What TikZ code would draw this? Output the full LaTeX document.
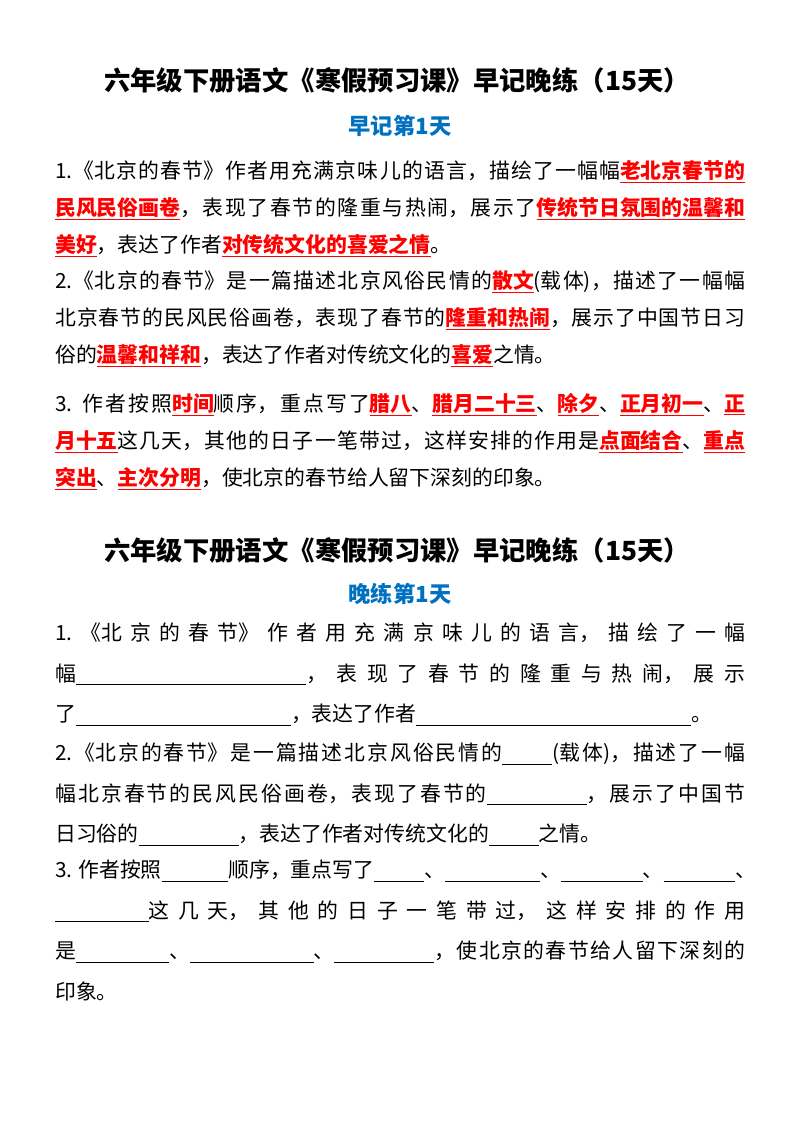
\documentclass[tikz,border=0pt]{standalone}
\usepackage{fontspec}
\setmainfont{Noto Sans CJK SC}
\XeTeXlinebreaklocale "zh"
\XeTeXlinebreakskip=0pt plus 3pt
\definecolor{keyred}{RGB}{255,0,0}
\definecolor{dayblue}{RGB}{0,112,192}
% red answer and empty blank
\newcommand{\ans}[1]{\textcolor{keyred}{\bfseries\underline{#1}}}
\newcommand{\blank}[1]{\rule[-3pt]{#1cm}{0.6pt}}
\newcommand{\brk}{\linebreak{}}
\tikzset{
  title/.style={font=\fontsize{22.5}{26}\selectfont\bfseries, inner sep=0pt},
  day/.style={font=\fontsize{19}{23}\selectfont\bfseries, text=dayblue, inner sep=0pt},
  para/.style={anchor=north west, inner sep=0pt, text width=20.7cm, align=justify,
    font=\fontsize{17.8}{31.5}\selectfont},
  para2/.style={para, font=\fontsize{17.8}{34.5}\selectfont}
}
\begin{document}
\begin{tikzpicture}[x=0.03cm,y=-0.03cm]
\useasboundingbox (0,0) rectangle (800,1132);
% morning part
\node[title] (t1) at (397,80) {六年级下册语文《寒假预习课》早记晚练（15天）};
\node[day] (d1) at (400,126) {早记第1天};
\node[para] (p1) at (55,160) {1.《北京的春节》作者用充满京味儿的语言，描绘了一幅幅\ans{老北京春节的}\brk\ans{民风民俗画卷}，表现了春节的隆重与热闹，展示了\ans{传统节日氛围的温馨和}\brk\ans{美好}，表达了作者\ans{对传统文化的喜爱之情}。};
\node[para] (p2) at (55,270) {2.《北京的春节》是一篇描述北京风俗民情的\ans{散文}(载体)，描述了一幅幅\brk 北京春节的民风民俗画卷，表现了春节的\ans{隆重和热闹}，展示了中国节日习\brk 俗的\ans{温馨和祥和}，表达了作者对传统文化的\ans{喜爱}之情。};
\node[para] (p3) at (55,393) {3. 作者按照\ans{时间}顺序，重点写了\ans{腊八}、\ans{腊月二十三}、\ans{除夕}、\ans{正月初一}、\ans{正}\brk\ans{月十五}这几天，其他的日子一笔带过，这样安排的作用是\ans{点面结合}、\ans{重点}\brk\ans{突出}、\ans{主次分明}，使北京的春节给人留下深刻的印象。};
% evening part
\node[title] (t2) at (397,550) {六年级下册语文《寒假预习课》早记晚练（15天）};
\node[day] (d2) at (400,594) {晚练第1天};
\node[para2] (p4) at (55,623) {1.《北京的春节》作者用充满京味儿的语言，描绘了一幅\brk 幅\blank{6.9}，表现了春节的隆重与热闹，展示\brk 了\blank{6.45}，表达了作者\blank{8.25}。};
\node[para2] (p5) at (55,743) {2.《北京的春节》是一篇描述北京风俗民情的\blank{1.5}(载体)，描述了一幅\brk 幅北京春节的民风民俗画卷，表现了春节的\blank{3}，展示了中国节\brk 日习俗的\blank{3}，表达了作者对传统文化的\blank{1.5}之情。};
\node[para2] (p6) at (55,860) {3. 作者按照\blank{2}顺序，重点写了\blank{1.5}、\blank{2.85}、\blank{2.45}、\blank{2.15}、\brk\blank{2.8}这几天，其他的日子一笔带过，这样安排的作用\brk 是\blank{2.8}、\blank{3.7}、\blank{3}，使北京的春节给人留下深刻的\brk 印象。};
\end{tikzpicture}
\end{document}
